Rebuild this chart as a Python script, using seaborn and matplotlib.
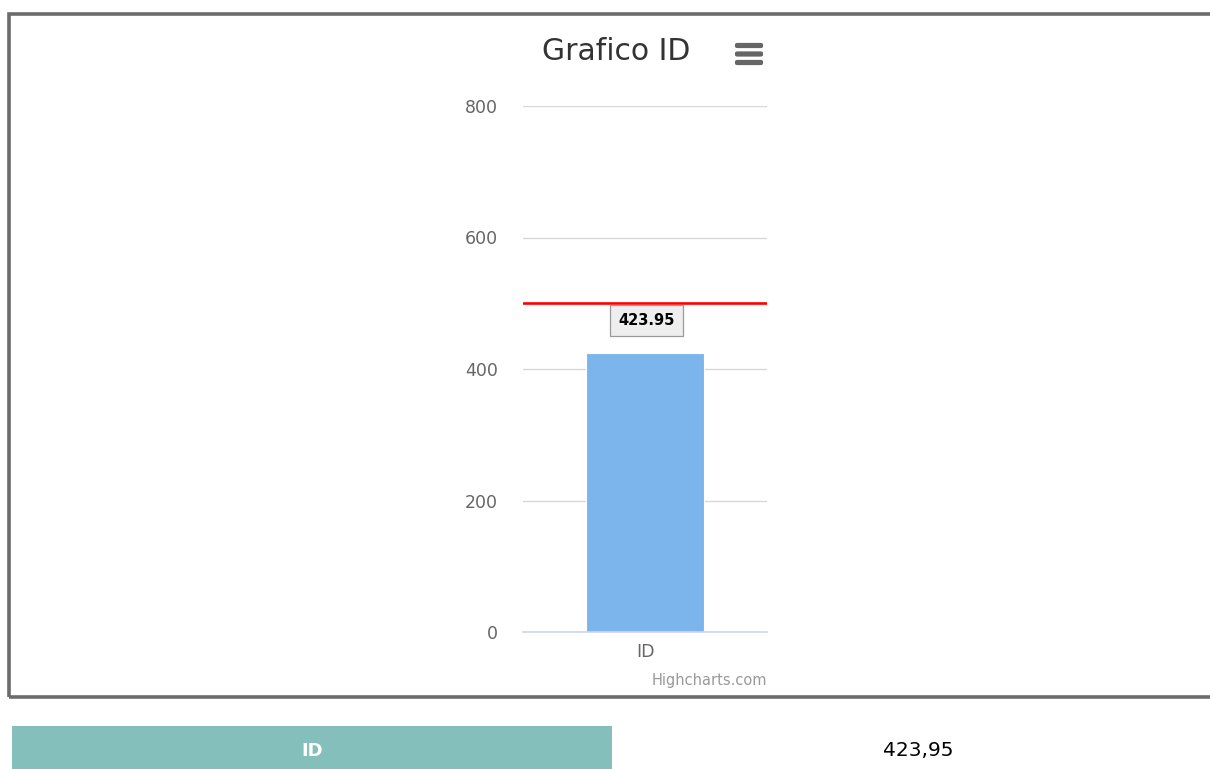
import matplotlib
matplotlib.use("Agg")
import matplotlib.pyplot as plt
from matplotlib.patches import Rectangle, FancyBboxPatch
import seaborn as sns
import pandas as pd

# Chart data
categories = ["ID"]
values = [423.95]
threshold = 500
y_ticks = [0, 200, 400, 600, 800]
title = "Grafico ID"
table_label = "ID"
table_value = "423,95"

sns.set_style("white")
plt.rcParams["font.family"] = ["DejaVu Sans"]

W, H = 1210, 769
fig = plt.figure(figsize=(W / 100, H / 100), dpi=100)

def fx(px):
    return px / W

def fy(py):
    return 1 - py / H

# Outer frame of the chart container (right edge runs off the page)
fig.patches.append(Rectangle((fx(8.5), fy(697)), fx(1300), fy(13.5) - fy(697),
                             transform=fig.transFigure, fill=False,
                             edgecolor="#6b6b6b", linewidth=2.6))

ax = fig.add_axes([fx(523), fy(632), fx(767) - fx(523), fy(106) - fy(632)])

df = pd.DataFrame({"cat": categories, "val": values})
sns.barplot(data=df, x="cat", y="val", ax=ax, color="#7cb5ec", saturation=1,
            width=0.48, edgecolor="white", linewidth=0.8, zorder=3)

ax.set_ylim(0, 800)
ax.set_xlim(-0.5, 0.5)
ax.set_yticks(y_ticks)
ax.set_yticklabels([str(t) for t in y_ticks])
ax.grid(axis="y", color="#d8d8d8", linewidth=1.0, zorder=0)
ax.set_axisbelow(True)
for side in ["left", "right", "top"]:
    ax.spines[side].set_visible(False)
ax.spines["bottom"].set_color("#ccd6eb")
ax.spines["bottom"].set_linewidth(1.2)
ax.spines["bottom"].set_zorder(4)
ax.tick_params(axis="y", length=0, pad=18, labelsize=12.5, labelcolor="#666666")
ax.tick_params(axis="x", length=0, pad=8, labelsize=12.5, labelcolor="#666666")
ax.set_xlabel("")
ax.set_ylabel("")

# Threshold line
ax.axhline(threshold, color="#ff0000", linewidth=1.9, zorder=5)

# Value label above the bar
for i, v in enumerate(values):
    ax.annotate(f"{v:.2f}", xy=(i, v), xytext=(1, 23.5), textcoords="offset points",
                ha="center", va="center", fontsize=10.5, fontweight="bold", color="#000000",
                bbox=dict(boxstyle="square,pad=0.55", facecolor="#eeeeee",
                          edgecolor="#9a9a9a", linewidth=0.9), zorder=6)

# Title and menu icon
fig.text(fx(616), fy(52), title, ha="center", va="center", fontsize=21.5, color="#333333")
for yy in [45.5, 54, 62.5]:
    fig.patches.append(FancyBboxPatch((fx(735), fy(yy + 2.6)), fx(28), fy(yy - 2.6) - fy(yy + 2.6),
                                      boxstyle="round,pad=0,rounding_size=0.002",
                                      transform=fig.transFigure, facecolor="#666666",
                                      edgecolor="none"))

# Credits
fig.text(fx(767), fy(681), "Highcharts.com", ha="right", va="center",
         fontsize=10.5, color="#999999")

# Table row below the chart
fig.patches.append(Rectangle((fx(12), 0), fx(612) - fx(12), fy(726),
                             transform=fig.transFigure, facecolor="#85bfbc",
                             edgecolor="none"))
fig.text(fx(312), fy(751), table_label, ha="center", va="center", fontsize=13,
         fontweight="bold", color="white", family="Liberation Sans Narrow")
fig.text(fx(918), fy(751), table_value, ha="center", va="center", fontsize=14.5,
         color="#000000", family="Liberation Sans Narrow")

fig.savefig("out.png", dpi=100, facecolor="white")
